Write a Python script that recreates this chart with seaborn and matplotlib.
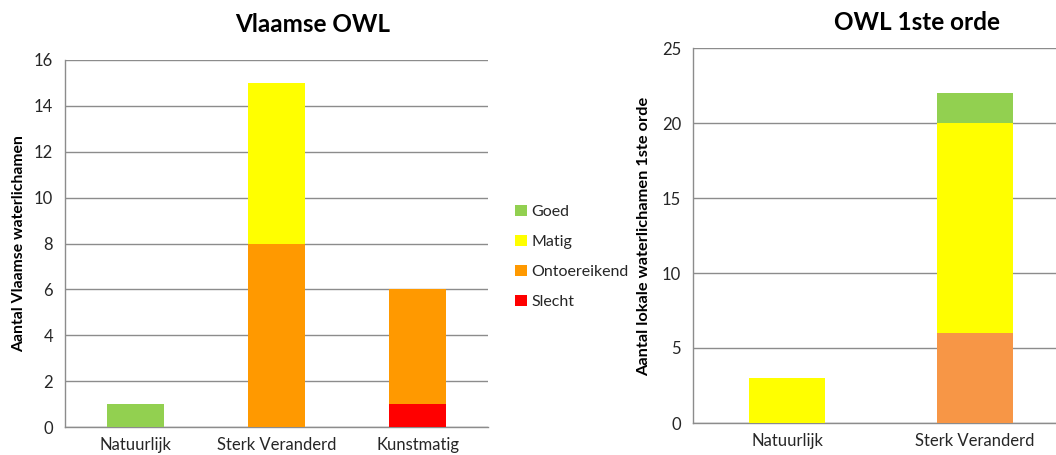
import matplotlib
matplotlib.use("Agg")
import matplotlib.pyplot as plt
import seaborn as sns
import numpy as np
from matplotlib.patches import Patch

sns.set_style("white")
plt.rcParams['font.family'] = ['Lato', 'DejaVu Sans']

# Data
series = ["Goed", "Matig", "Ontoereikend", "Slecht"]
cats_left = ["Natuurlijk", "Sterk Veranderd", "Kunstmatig"]
left_goed = [1, 0, 0]
left_matig = [0, 7, 0]
left_ontoereikend = [0, 8, 5]
left_slecht = [0, 0, 1]

cats_right = ["Natuurlijk", "Sterk Veranderd"]
right_goed = [0, 2]
right_matig = [3, 14]
right_ontoereikend = [0, 6]
right_slecht = [0, 0]

left_colors = {"Goed": "#92D050", "Matig": "#FFFF00", "Ontoereikend": "#FF9900", "Slecht": "#FF0000"}
right_colors = {"Goed": "#92D050", "Matig": "#FFFF00", "Ontoereikend": "#F79646", "Slecht": "#FF0000"}

W, H = 1056, 455
fig = plt.figure(figsize=(W / 100, H / 100), dpi=100)
ax1 = fig.add_axes([65/W, 1-427/H, 423/W, 367/H])
ax2 = fig.add_axes([693/W, 1-423/H, 376/W, 375/H])

GRID = "#8C8C8C"
TXT = "#262626"

def draw(ax, cats, data, colors, ymax, ystep):
    bottom = np.zeros(len(cats))
    for name in ["Slecht", "Ontoereikend", "Matig", "Goed"]:
        vals = np.array(data[name], dtype=float)
        sns.barplot(x=cats, y=vals, bottom=bottom, color=colors[name], width=0.4,
                    saturation=1, linewidth=0, ax=ax, zorder=3, errorbar=None)
        bottom = bottom + vals
    ax.set_xlim(-0.5, len(cats) - 0.5)
    ax.set_ylim(0, ymax)
    ax.set_yticks(np.arange(0, ymax + 0.1, ystep))
    ax.yaxis.grid(True, color=GRID, linewidth=1.0, zorder=0)
    ax.set_axisbelow(True)
    for s in ["top", "right"]:
        ax.spines[s].set_visible(False)
    for s in ["left", "bottom"]:
        ax.spines[s].set_color(GRID)
        ax.spines[s].set_linewidth(1.0)
    ax.set_xticks(np.arange(-0.5, len(cats)), minor=True)
    ax.tick_params(axis="x", which="major", length=0, labelsize=12, colors=TXT, pad=7)
    ax.tick_params(axis="x", which="minor", length=5, color=GRID, direction="out", width=1)
    ax.tick_params(axis="y", length=5, color=GRID, direction="out", labelsize=12, labelcolor=TXT, width=1)
    ax.set_xlabel("")
    ax.set_ylabel("")

draw(ax1, cats_left,
     {"Goed": left_goed, "Matig": left_matig, "Ontoereikend": left_ontoereikend, "Slecht": left_slecht},
     left_colors, 16, 2)
draw(ax2, cats_right,
     {"Goed": right_goed, "Matig": right_matig, "Ontoereikend": right_ontoereikend, "Slecht": right_slecht},
     right_colors, 25, 5)

fig.text(313/W, 1-25/H, "Vlaamse OWL", ha="center", va="center", fontsize=17.5, fontweight="bold", color="black")
fig.text(917/W, 1-23/H, "OWL 1ste orde", ha="center", va="center", fontsize=17.5, fontweight="bold", color="black")
fig.text(19/W, 1-244/H, "Aantal Vlaamse waterlichamen", rotation=90, ha="center", va="center",
         fontsize=11.3, fontweight="bold", color="black")
fig.text(644/W, 1-236/H, "Aantal lokale waterlichamen 1ste orde", rotation=90, ha="center", va="center",
         fontsize=11.8, fontweight="bold", color="black")

handles = [Patch(facecolor=left_colors[s], edgecolor="none") for s in series]
fig.legend(handles, series, loc="center left", bbox_to_anchor=(501/W, 1-257/H),
           frameon=False, fontsize=11.5, handlelength=0.7, handleheight=0.7,
           handletextpad=0.3, labelspacing=1.0, labelcolor=TXT)

fig.savefig("out.png", dpi=100)
